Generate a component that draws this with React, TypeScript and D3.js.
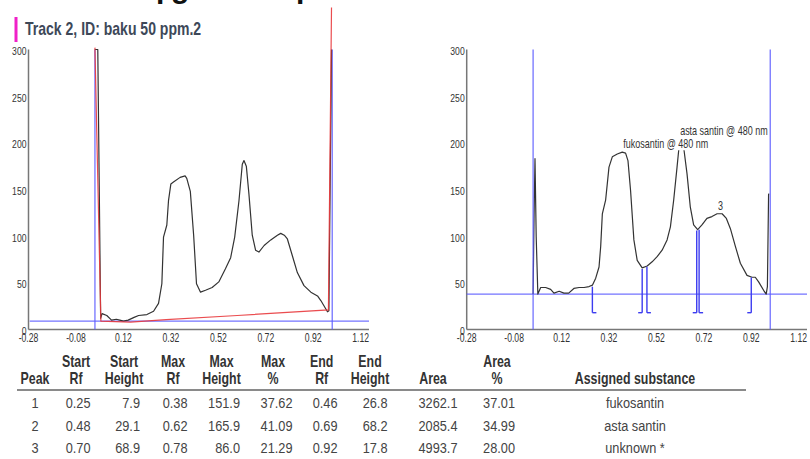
import React from "react";
import * as d3 from "d3";

// ---------- data ----------
const leftTrace: [number, number][] = [
  [0.0, 300], [0.012, 300], [0.024, 12], [0.03, 17], [0.05, 15], [0.07, 10], [0.09, 11], [0.105, 10],
  [0.12, 9], [0.14, 10], [0.165, 13], [0.184, 15], [0.219, 16], [0.247, 19.5], [0.268, 28], [0.282, 49],
  [0.289, 99], [0.303, 112], [0.31, 138], [0.32, 156], [0.331, 158], [0.359, 163], [0.38, 164.6],
  [0.387, 162], [0.402, 148], [0.416, 101], [0.428, 49], [0.445, 40], [0.466, 42], [0.494, 45],
  [0.522, 51], [0.55, 65], [0.572, 77], [0.589, 99], [0.607, 138], [0.621, 177], [0.628, 181],
  [0.638, 175], [0.649, 145], [0.663, 101], [0.677, 85], [0.691, 83], [0.713, 90], [0.741, 96],
  [0.769, 101], [0.783, 103], [0.798, 101], [0.811, 97], [0.832, 79], [0.853, 61], [0.881, 47],
  [0.91, 40], [0.938, 36], [0.952, 31], [0.98, 19], [0.986, 20], [0.997, 300],
];
const leftBaseline: [number, number][] = [
  [0.0, 302], [0.025, 9], [0.15, 8], [0.3, 10.5], [0.6, 15], [0.984, 21], [0.997, 345],
];
const rightTrace: [number, number][] = [
  [0.0, 38], [0.004, 120], [0.008, 183], [0.013, 100], [0.02, 38], [0.032, 45], [0.053, 45],
  [0.074, 43], [0.088, 39], [0.11, 41], [0.13, 39], [0.15, 39], [0.172, 44], [0.194, 45],
  [0.215, 45], [0.236, 46], [0.25, 47.5], [0.264, 55], [0.278, 67], [0.285, 89], [0.292, 124],
  [0.306, 139], [0.32, 174], [0.334, 185], [0.355, 188], [0.376, 190], [0.39, 189], [0.4, 181],
  [0.411, 149], [0.425, 96], [0.439, 74], [0.46, 66], [0.481, 68], [0.502, 72.5], [0.523, 78],
  [0.544, 85], [0.565, 96], [0.579, 110], [0.593, 139], [0.607, 174], [0.614, 192], [0.622, 204],
  [0.635, 195], [0.649, 167], [0.663, 131], [0.677, 112], [0.694, 107], [0.712, 112], [0.733, 119],
  [0.754, 121], [0.776, 124], [0.797, 124], [0.815, 119], [0.832, 108], [0.853, 89], [0.874, 71],
  [0.902, 58], [0.923, 56], [0.937, 56], [0.951, 51], [0.972, 42], [0.983, 38], [0.988, 46],
  [0.993, 145], [0.996, 145],
];
const leftLevel = 9;
const rightLevel = 38;
const trackLimits = [0, 1.0];
const yTicks = [0, 50, 100, 150, 200, 250, 300];
const xTicks = [-0.28, -0.08, 0.12, 0.32, 0.52, 0.72, 0.92, 1.12];

const title = "Track 2, ID: baku 50 ppm.2";
const peakNo = [1, 2, 3];
const startRf = [0.25, 0.48, 0.7];
const startHeight = [7.9, 29.1, 68.9];
const maxRf = [0.38, 0.62, 0.78];
const maxHeight = [151.9, 165.9, 86.0];
const maxPct = [37.62, 41.09, 21.29];
const endRf = [0.46, 0.69, 0.92];
const endHeight = [26.8, 68.2, 17.8];
const area = [3262.1, 2085.4, 4993.7];
const areaPct = [37.01, 34.99, 28.0];
const substance = ["fukosantin", "asta santin", "unknown *"];
const wavelength = "480 nm";

// ---------- helpers ----------
const FONT = "'Liberation Sans', Arial, sans-serif";

let _ctx: CanvasRenderingContext2D | null = null;
function measure(text: string, size: number, weight = "normal") {
  if (!_ctx) _ctx = document.createElement("canvas").getContext("2d");
  if (!_ctx) return text.length * size * 0.55;
  _ctx.font = `${weight} ${size}px 'Liberation Sans', Arial, sans-serif`;
  return _ctx.measureText(text).width;
}

function T(props: {
  x: number; y: number; size: number; sx: number; anchor?: string; weight?: string; fill?: string; children: any;
}) {
  const { x, y, size, sx, anchor = "start", weight = "normal", fill = "#333", children } = props;
  return (
    <text
      transform={`translate(${x},${y}) scale(${sx},1)`}
      textAnchor={anchor}
      fontFamily={FONT}
      fontSize={size}
      fontWeight={weight}
      fill={fill}
    >
      {children}
    </text>
  );
}

const y = d3.scaleLinear().domain([0, 300]).range([329.5, 49.5]);
const xL = d3.scaleLinear().domain([-0.28, 1.155]).range([28.5, 369]);
const xR = d3.scaleLinear().domain([-0.28, 1.155]).range([466.7, 807]);

function Axes({ x }: { x: d3.ScaleLinear<number, number> }) {
  const x0 = x(-0.28);
  const x1 = x(1.155);
  return (
    <g>
      <line x1={x0} x2={x0} y1={y(300)} y2={y(0)} stroke="#777" strokeWidth={1.5} />
      <line x1={x0} x2={x1} y1={y(0)} y2={y(0)} stroke="#777" strokeWidth={1.5} />
      {yTicks.map((t) => (
        <T key={"y" + t} x={x0 - 2} y={y(t) + 5.5} size={11.5} sx={0.75} anchor="end" fill="#333">
          {String(t)}
        </T>
      ))}
      {xTicks.map((t) => (
        <T key={"x" + t} x={x(t)} y={342} size={12} sx={0.72} anchor="middle" fill="#333">
          {t.toFixed(2)}
        </T>
      ))}
    </g>
  );
}

export default function App() {
  const lineL = d3.line<[number, number]>().x((d) => xL(d[0])).y((d) => y(d[1]));
  const lineR = d3.line<[number, number]>().x((d) => xR(d[0])).y((d) => y(d[1]));
  const blue = "#5b5bff";

  const labelSize = 12;
  const labelSx = 0.75;

  const columns = [
    { h: ["", "Peak"], hx: 35, vx: 35, va: "middle", vals: peakNo.map((v) => String(v)) },
    { h: ["Start", "Rf"], hx: 76, vx: 90.5, va: "end", vals: startRf.map((v) => v.toFixed(2)) },
    { h: ["Start", "Height"], hx: 124, vx: 140, va: "end", vals: startHeight.map((v) => v.toFixed(1)) },
    { h: ["Max", "Rf"], hx: 173, vx: 187.5, va: "end", vals: maxRf.map((v) => v.toFixed(2)) },
    { h: ["Max", "Height"], hx: 221.5, vx: 240, va: "end", vals: maxHeight.map((v) => v.toFixed(1)) },
    { h: ["Max", "%"], hx: 273, vx: 292.5, va: "end", vals: maxPct.map((v) => v.toFixed(2)) },
    { h: ["End", "Rf"], hx: 321.7, vx: 337.5, va: "end", vals: endRf.map((v) => v.toFixed(2)) },
    { h: ["End", "Height"], hx: 370, vx: 387.5, va: "end", vals: endHeight.map((v) => v.toFixed(1)) },
    { h: ["", "Area"], hx: 433, vx: 457.5, va: "end", vals: area.map((v) => v.toFixed(1)) },
    { h: ["Area", "%"], hx: 497, vx: 515, va: "end", vals: areaPct.map((v) => v.toFixed(2)) },
    { h: ["", "Assigned substance"], hx: 635, vx: 635, va: "middle", vals: substance },
  ];
  const rowY = [408, 430.5, 453];

  return (
    <svg
      width={810}
      height={459}
      style={{ display: "block", position: "absolute", left: 0, top: 0 }}
    >
      <rect x={0} y={0} width={810} height={459} fill="#fff" />
      {/* cut-off text line at the very top of the page */}
      <text x={156} y={-2} fontFamily={FONT} fontSize={30} fontWeight="bold" fill="#111">p</text>
      <text x={171} y={-2} fontFamily={FONT} fontSize={30} fontWeight="bold" fill="#111">g</text>
      <text x={296} y={-2} fontFamily={FONT} fontSize={30} fontWeight="bold" fill="#111">p</text>

      {/* title */}
      <rect x={14.5} y={17} width={3} height={25} fill="#f020c8" />
      <T x={25} y={35} size={18} sx={0.78} weight="bold" fill="#3d4858">{title}</T>

      {/* left chart */}
      <Axes x={xL} />
      <line x1={xL(-0.275)} x2={xL(1.155)} y1={y(leftLevel)} y2={y(leftLevel)} stroke={blue} strokeWidth={1.3} opacity={0.85} />
      {trackLimits.map((t) => (
        <line key={"lb" + t} x1={xL(t)} x2={xL(t)} y1={y(300)} y2={y(0)} stroke={blue} strokeWidth={1.3} opacity={0.85} />
      ))}
      <path d={lineL(leftTrace) || ""} fill="none" stroke="#333" strokeWidth={1.2} strokeLinejoin="round" />
      <path d={lineL(leftBaseline) || ""} fill="none" stroke="#e8383c" strokeWidth={1.2} opacity={0.9} />

      {/* right chart */}
      <Axes x={xR} />
      <line x1={xR(-0.28)} x2={xR(1.155)} y1={y(rightLevel)} y2={y(rightLevel)} stroke={blue} strokeWidth={1.3} opacity={0.85} />
      <path d={lineR(rightTrace) || ""} fill="none" stroke="#333" strokeWidth={1.2} strokeLinejoin="round" />
      {peakNo.map((p, i) => {
        const footY = y(18);
        const sx = xR(startRf[i]);
        const ex = xR(endRf[i]);
        return (
          <g key={"m" + p} stroke="#3c3cf0" strokeWidth={1.4} fill="none">
            <line x1={sx} x2={sx} y1={y(rightLevel + startHeight[i])} y2={footY} />
            <line x1={sx} x2={sx + 4} y1={footY} y2={footY} />
            <line x1={ex} x2={ex} y1={y(rightLevel + endHeight[i])} y2={footY} />
            <line x1={ex - 4} x2={ex} y1={footY} y2={footY} />
          </g>
        );
      })}
      {peakNo.map((p, i) => {
        const txt = substance[i].startsWith("unknown") ? String(p) : `${substance[i]} @ ${wavelength}`;
        const lx = xR(maxRf[i]);
        const ly = y(rightLevel + maxHeight[i]) - 4;
        const w = measure(txt, labelSize) * labelSx;
        return (
          <g key={"lab" + p}>
            <rect x={lx - 1} y={ly - 10.5} width={w + 2} height={12.5} fill="#fff" />
            <T x={lx} y={ly} size={labelSize} sx={labelSx} fill="#333">{txt}</T>
          </g>
        );
      })}
      {trackLimits.map((t) => (
        <line key={"rb" + t} x1={xR(t)} x2={xR(t)} y1={y(300)} y2={y(0)} stroke={blue} strokeWidth={1.3} opacity={0.85} />
      ))}

      {/* table */}
      {columns.map((c, ci) => (
        <g key={"c" + ci}>
          {c.h[0] && (
            <T x={c.hx} y={366.7} size={16.3} sx={0.76} weight="bold" anchor="middle" fill="#333">{c.h[0]}</T>
          )}
          <T x={c.hx} y={384.3} size={16.3} sx={0.76} weight="bold" anchor="middle" fill="#333">{c.h[1]}</T>
          {c.vals.map((v, ri) => (
            <T key={"v" + ri} x={c.vx} y={rowY[ri]} size={14.5} sx={0.88} anchor={c.va} fill="#444">{v}</T>
          ))}
        </g>
      ))}
      <line x1={17} x2={746} y1={390} y2={390} stroke="#8a8a8a" strokeWidth={2} />
    </svg>
  );
}
